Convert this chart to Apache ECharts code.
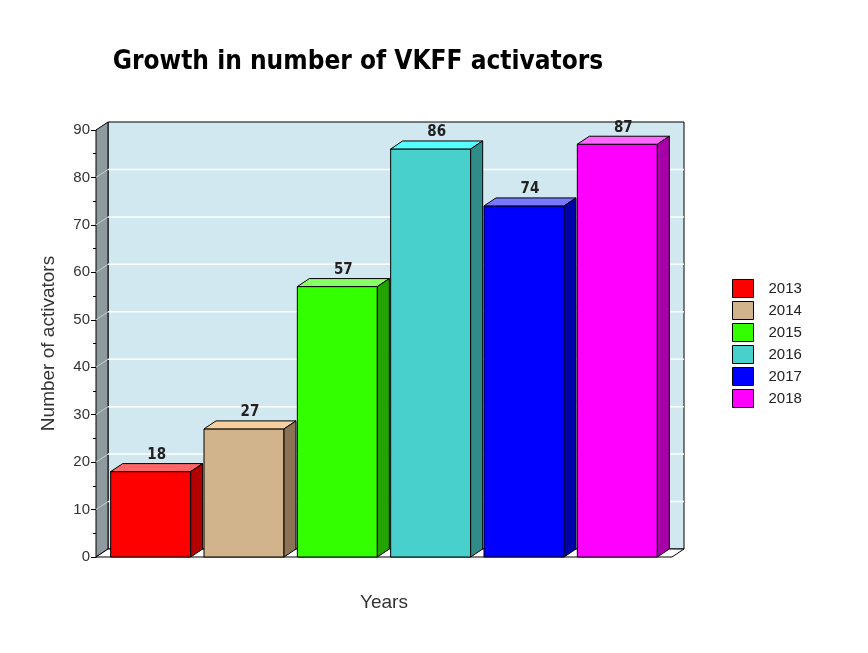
<!DOCTYPE html>
<html><head><meta charset="utf-8">
<script src="https://cdn.jsdelivr.net/npm/echarts@6/dist/echarts.min.js"></script>
<style>html,body{margin:0;background:#fff}#c{width:868px;height:653px}</style>
</head><body><div id="c"></div>
<script>
var years = ['2013', '2014', '2015', '2016', '2017', '2018'];
var counts = [18, 27, 57, 86, 74, 87];
var fronts = ['#ff0000', '#d2b48c', '#33ff00', '#48d1cc', '#0000ff', '#ff00ff'];
var tops = ['#ff6666', '#f5cf9e', '#88ff66', '#55ffff', '#7777ff', '#ff66ff'];
var sides = ['#b30000', '#8b7355', '#22a300', '#2f8c88', '#0000a8', '#a800a8'];
var DX = 12, DY = -8;

var chart = echarts.init(document.getElementById('c'));

function panel(params, api) {
  var a = api.coord([0, 0]), b = api.coord([5, 90]);
  var x0 = 96, x1 = 672, y0 = a[1], y1 = b[1];
  var kids = [
    {type: 'polygon', shape: {points: [[x0 + DX, y1 + DY], [x1 + DX, y1 + DY], [x1 + DX, y0 + DY], [x0 + DX, y0 + DY]]},
      style: {fill: '#d2e8f0', stroke: '#000', lineWidth: 1}},
    {type: 'polygon', shape: {points: [[x0, y1], [x0 + DX, y1 + DY], [x0 + DX, y0 + DY], [x0, y0]]},
      style: {fill: '#8f9a9e', stroke: '#000', lineWidth: 1}},
    {type: 'polygon', shape: {points: [[x0, y0], [x0 + DX, y0 + DY], [x1 + DX, y0 + DY], [x1, y0]]},
      style: {fill: '#fff', stroke: '#000', lineWidth: 1}}
  ];
  for (var v = 10; v < 90; v += 10) {
    var y = api.coord([0, v])[1];
    kids.push({type: 'line', shape: {x1: x0 + DX, y1: y + DY, x2: x1 + DX, y2: y + DY}, style: {stroke: '#fff', lineWidth: 1.5}});
    kids.push({type: 'line', shape: {x1: x0, y1: y, x2: x0 + DX, y2: y + DY}, style: {stroke: '#c8d0d3', lineWidth: 1}});
  }
  return {type: 'group', children: kids};
}

function bar3d(i) {
  return function (params, api) {
    var p = api.coord([api.value(0), api.value(1)]);
    var base = api.coord([api.value(0), 0]);
    var w = 80, l = p[0] - w / 2, r = p[0] + w / 2, t = p[1], b = base[1];
    return {type: 'group', children: [
      {type: 'rect', shape: {x: l, y: t, width: w, height: b - t}, style: {fill: fronts[i], stroke: '#000', lineWidth: 1}},
      {type: 'polygon', shape: {points: [[l, t], [l + DX, t + DY], [r + DX, t + DY], [r, t]]}, style: {fill: tops[i], stroke: '#000', lineWidth: 1}},
      {type: 'polygon', shape: {points: [[r, t], [r + DX, t + DY], [r + DX, b + DY], [r, b]]}, style: {fill: sides[i], stroke: '#000', lineWidth: 1}},
      {type: 'text', style: {text: String(api.value(1)), x: p[0] + DX / 2, y: t + DY - 1, align: 'center', verticalAlign: 'bottom',
        font: 'bold 15px "Liberation Sans Narrow", "DejaVu Sans Condensed", sans-serif', fill: '#222'}}
    ]};
  };
}

var series = [{type: 'custom', name: 'bg', silent: true, data: [[0, 0]], renderItem: panel, z: 1}];
years.forEach(function (yr, i) {
  series.push({type: 'custom', name: yr, data: [[i, counts[i]]], renderItem: bar3d(i), itemStyle: {color: fronts[i]}, z: 2});
});

chart.setOption({
  animation: false,
  title: {text: 'Growth in number of VKFF activators', left: 353, top: 44, textAlign: 'center',
    textStyle: {fontFamily: '"Liberation Sans Narrow", "DejaVu Sans Condensed", sans-serif', fontWeight: 'bold', fontSize: 26, color: '#000'}},
  legend: {data: years, orient: 'vertical', left: 727, top: 274, itemWidth: 21, itemHeight: 18, itemGap: 3,
    icon: 'rect', itemStyle: {borderColor: '#000', borderWidth: 1},
    textStyle: {fontSize: 15, color: '#222', padding: [0, 0, 0, 10], fontFamily: 'Liberation Sans, sans-serif'}},
  grid: {left: 104, right: 204, top: 130, bottom: 96},
  xAxis: {type: 'category', data: years, axisLine: {show: false}, axisTick: {show: false}, axisLabel: {show: false},
    name: 'Years', nameLocation: 'middle', nameGap: 36,
    nameTextStyle: {fontSize: 19, color: '#333', fontFamily: 'Liberation Sans, sans-serif'}},
  yAxis: {type: 'value', min: 0, max: 90, interval: 10, offset: 8,
    axisLine: {show: true, lineStyle: {color: '#000'}}, axisTick: {show: true, length: 5, lineStyle: {color: '#000'}},
    minorTick: {show: true, splitNumber: 2, length: 3, lineStyle: {color: '#000'}},
    splitLine: {show: false},
    axisLabel: {fontSize: 15, color: '#333', margin: 6, fontFamily: 'Liberation Sans, sans-serif'},
    name: 'Number of activators', nameLocation: 'middle', nameGap: 38,
    nameTextStyle: {fontSize: 19, color: '#333', fontFamily: 'Liberation Sans, sans-serif'}},
  series: series
});
</script></body></html>
